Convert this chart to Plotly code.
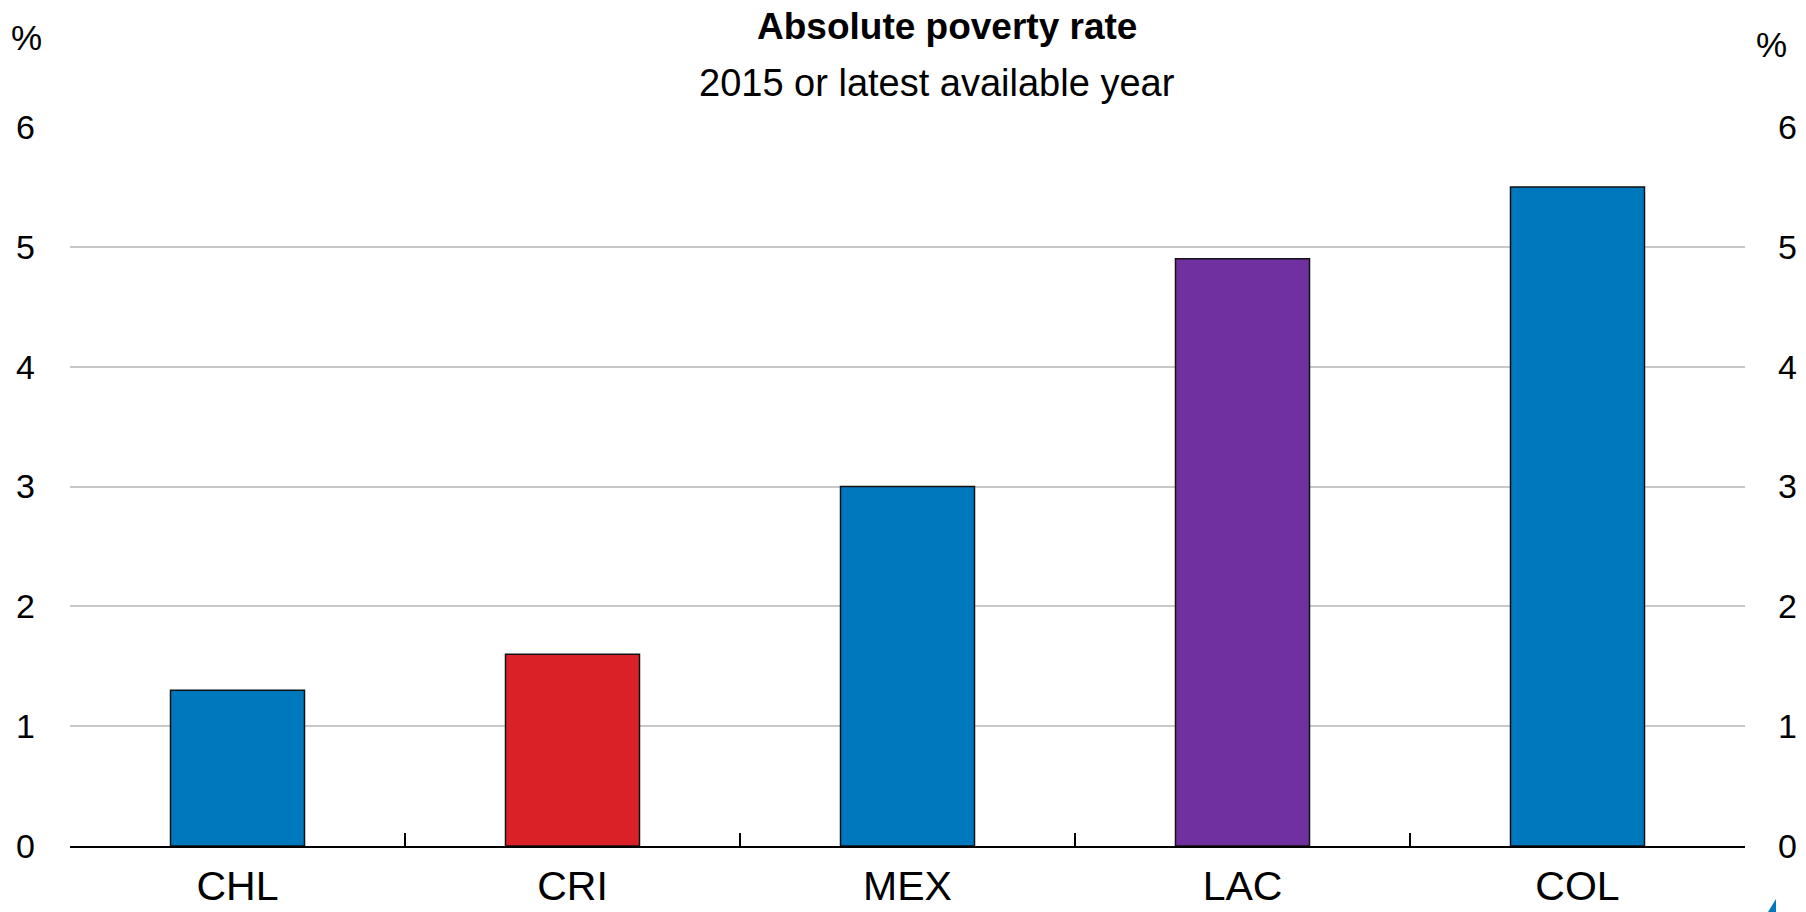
import plotly.graph_objects as go

# Absolute poverty rate by country, 2015 or latest available year (%)
countries = ["CHL", "CRI", "MEX", "LAC", "COL"]
poverty_rate = [1.3, 1.6, 3.0, 4.9, 5.5]
bar_colors = ["#0078BE", "#DA2128", "#0078BE", "#7030A0", "#0078BE"]
y_ticks = [0, 1, 2, 3, 4, 5, 6]

W, H = 1806, 912
L, R, T, B = 70, 1745, 127, 846  # plot area in pixels

FONT = "Liberation Sans, Arial, sans-serif"


def px_x(x):
    return (x - L) / (R - L)


def px_y(y):
    return (B - y) / (B - T)


fig = go.Figure()
fig.add_trace(go.Bar(
    x=countries, y=poverty_rate,
    marker=dict(color=bar_colors, line=dict(color="#111111", width=1.5)),
    width=0.4, hoverinfo="x+y", showlegend=False,
))
# invisible trace that carries the right-hand axis
fig.add_trace(go.Scatter(
    x=countries, y=poverty_rate, yaxis="y2", mode="markers",
    marker=dict(opacity=0), hoverinfo="skip", showlegend=False,
))

fig.update_layout(
    width=W, height=H,
    margin=dict(l=L, r=W - R, t=T, b=H - B, pad=0, autoexpand=False),
    paper_bgcolor="white", plot_bgcolor="white",
    bargap=0.6,
    xaxis=dict(
        type="category", range=[-0.5, len(countries) - 0.5],
        automargin=False,
        showline=True, linecolor="#000000", linewidth=1.5,
        tickson="boundaries", ticks="inside", ticklen=13, tickwidth=1.5,
        tickcolor="#000000", ticklabelstandoff=3,
        tickfont=dict(family=FONT, size=41, color="#000000"),
        showgrid=False, zeroline=False, fixedrange=True,
    ),
    yaxis=dict(
        range=[0, 6], tickvals=y_ticks, showgrid=True, automargin=False,
        gridcolor="#C8C8C8", gridwidth=1.5, zeroline=False,
        showline=False, ticks="", ticklabelstandoff=34,
        tickfont=dict(family=FONT, size=34, color="#000000"),
        fixedrange=True,
    ),
    yaxis2=dict(
        range=[0, 6], tickvals=y_ticks, overlaying="y", side="right",
        automargin=False,
        showgrid=False, zeroline=False, showline=False, ticks="",
        ticklabelstandoff=32,
        tickfont=dict(family=FONT, size=34, color="#000000"),
        fixedrange=True,
    ),
    annotations=[
        dict(text="<b>Absolute poverty rate</b>", x=px_x(947), y=px_y(26),
             xref="paper", yref="paper", xanchor="center", yanchor="middle",
             showarrow=False,
             font=dict(family=FONT, size=37, color="#000000")),
        dict(text="2015 or latest available year", x=px_x(937), y=px_y(83),
             xref="paper", yref="paper", xanchor="center", yanchor="middle",
             showarrow=False,
             font=dict(family=FONT, size=38, color="#000000")),
        dict(text="%", x=px_x(26), y=px_y(38), xref="paper", yref="paper",
             xanchor="center", yanchor="middle", showarrow=False,
             font=dict(family=FONT, size=35, color="#000000")),
        dict(text="%", x=px_x(1771), y=px_y(44), xref="paper", yref="paper",
             xanchor="center", yanchor="middle", showarrow=False,
             font=dict(family=FONT, size=35, color="#000000")),
    ],
    shapes=[
        dict(type="path", xref="paper", yref="paper",
             path=f"M {px_x(1768)} {px_y(912)} L {px_x(1776)} {px_y(899)} "
                  f"L {px_x(1776)} {px_y(912)} Z",
             fillcolor="#0078BE", line=dict(width=0)),
    ],
)

fig.write_html("out.html")
